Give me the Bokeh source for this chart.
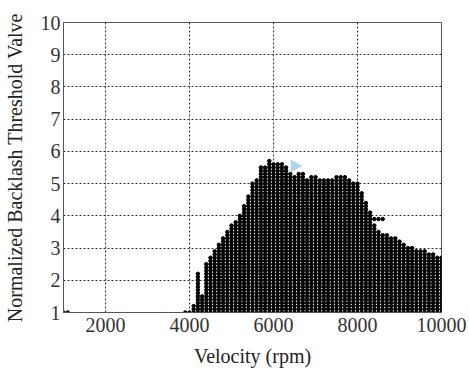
import numpy as np
from bokeh.plotting import figure
from bokeh.models import Range1d, FixedTicker
from bokeh.embed import file_html
from bokeh.resources import INLINE

# Column positions (rpm) and the top value of each filled column of dots
col_x = [4100, 4200, 4300, 4400, 4500, 4600, 4700, 4800, 4900, 5000,
         5100, 5200, 5300, 5400, 5500, 5600, 5700, 5800, 5900, 6000,
         6100, 6200, 6300, 6400, 6500, 6600, 6700, 6800, 6900, 7000,
         7100, 7200, 7300, 7400, 7500, 7600, 7700, 7800, 7900, 8000,
         8100, 8200, 8300, 8400, 8500, 8600, 8700, 8800, 8900, 9000,
         9100, 9200, 9300, 9400, 9500, 9600, 9700, 9800, 9900, 10000]
col_top = [1.2, 2.2, 1.5, 2.5, 2.7, 2.9, 3.1, 3.3, 3.5, 3.7,
           3.8, 4.0, 4.3, 4.6, 5.0, 5.1, 5.5, 5.5, 5.7, 5.6,
           5.6, 5.6, 5.5, 5.3, 5.2, 5.3, 5.3, 5.1, 5.2, 5.2,
           5.1, 5.1, 5.1, 5.1, 5.2, 5.2, 5.2, 5.1, 5.0, 5.0,
           4.7, 4.4, 4.1, 3.7, 3.5, 3.4, 3.4, 3.3, 3.3, 3.2,
           3.1, 3.0, 3.0, 2.9, 2.9, 2.9, 2.8, 2.8, 2.7, 2.7]
# isolated points
iso_x = [1000, 1100, 3900, 4000, 8400, 8500, 8600]
iso_y = [1.0, 1.0, 1.0, 1.0, 3.9, 3.9, 3.9]
row_step = 0.1

x_ticks = [2000, 4000, 6000, 8000, 10000]
y_ticks = [1, 2, 3, 4, 5, 6, 7, 8, 9, 10]

xs, ys = [], []
for cx, top in zip(col_x, col_top):
    n = int(round((top - 1.0) / row_step)) + 1
    for k in range(n):
        xs.append(cx)
        ys.append(1.0 + k * row_step)
xs += iso_x
ys += iso_y

FONT = "Liberation Serif"

p = figure(width=469, height=373, output_backend="svg", toolbar_location=None,
           x_range=Range1d(1000, 10000), y_range=Range1d(1, 10),
           min_border_left=63, min_border_right=28, min_border_top=22, min_border_bottom=61)
p.background_fill_color = "white"
p.border_fill_color = "white"
p.outline_line_color = "#555555"
p.outline_line_width = 1

p.xaxis.ticker = FixedTicker(ticks=x_ticks)
p.yaxis.ticker = FixedTicker(ticks=y_ticks)
for ax in (p.xaxis, p.yaxis):
    ax.major_tick_out = 0
    ax.major_tick_in = 0
    ax.minor_tick_out = 0
    ax.minor_tick_in = 0
    ax.axis_line_color = "#555555"
    ax.major_label_text_font = FONT
    ax.major_label_text_font_size = "20px"
    ax.major_label_text_color = "#333333"
    ax.axis_label_text_font = FONT
    ax.axis_label_text_font_size = "20px"
    ax.axis_label_text_font_style = "normal"
    ax.axis_label_text_color = "#222222"
p.xaxis.axis_label = "Velocity (rpm)"
p.yaxis.axis_label = "Normalized Backlash Threshold Valve"
p.xaxis.major_label_standoff = 5
p.xaxis.axis_label_standoff = 10
p.yaxis.major_label_standoff = 3
p.yaxis.axis_label_standoff = 12

for g in (p.xgrid, p.ygrid):
    g.grid_line_color = "#333333"
    g.grid_line_dash = "2 2"
    g.grid_line_width = 1

p.scatter(xs, ys, size=3.5, color="black", marker="circle")

# light blue artifact triangle
p.scatter([6500], [5.55], marker="triangle", size=13, angle=-np.pi / 2,
          fill_color="#a9d5ee", line_color=None)

open("out.html", "w").write(file_html(p, INLINE))
